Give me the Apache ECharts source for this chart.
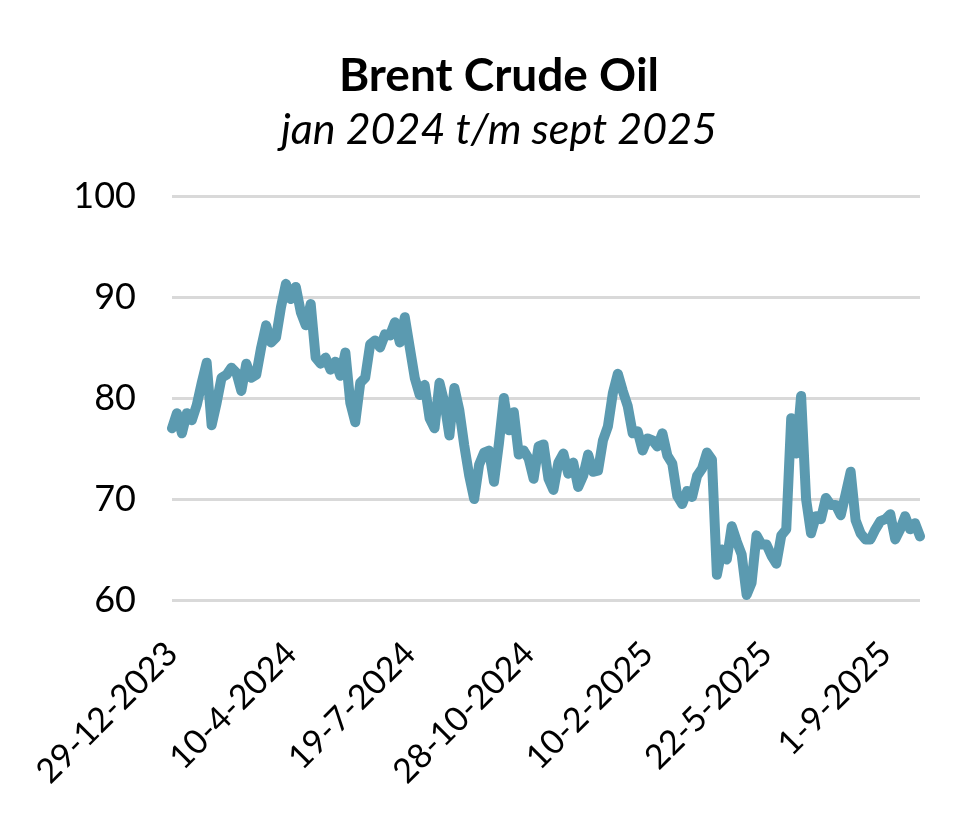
<!DOCTYPE html>
<html>
<head>
<meta charset="utf-8">
<script src="https://cdn.jsdelivr.net/npm/echarts@6/dist/echarts.min.js"></script>
<style>
html,body{margin:0;padding:0;background:#fff;}
#chart{width:966px;height:834px;}
</style>
</head>
<body>
<div id="chart"></div>
<script>
// Tick labels shown on the x axis (one every labelStep samples)
const tickLabels = ['29-12-2023', '10-4-2024', '19-7-2024', '28-10-2024', '10-2-2025', '22-5-2025', '1-9-2025'];
const labelStep = 24;
const prices = [
  77, 78.5, 76.5, 78.5, 77.8, 79.3, 81.5, 83.5, 77.3, 79.5,
  82, 82.3, 83, 82.5, 80.7, 83.4, 82, 82.3, 85, 87.2,
  85.5, 86, 89, 91.3, 89.8, 91, 88.5, 87.2, 89.3, 84,
  83.4, 84, 82.8, 83.6, 82.2, 84.5, 79.5, 77.6, 81.5, 82,
  85.3, 85.7, 85, 86.3, 86.2, 87.5, 85.5, 88, 85, 82,
  80.3, 81.3, 78, 77, 81.5, 79.5, 76.3, 81, 78.8, 75.3,
  72.3, 70, 73.4, 74.6, 74.8, 71.7, 75.5, 80, 76.8, 78.6,
  74.4, 74.8, 74, 72, 75.2, 75.4, 72, 70.9, 73.6, 74.5,
  72.5, 73.6, 71.2, 72.3, 74.4, 72.7, 72.8, 75.8, 77.2, 80.5,
  82.4, 80.7, 79.2, 76.5, 76.7, 74.8, 76, 75.8, 75.2, 76.5,
  74.3, 73.5, 70.3, 69.5, 70.8, 70.2, 72.3, 73, 74.6, 73.9,
  62.5, 65, 64, 67.3, 65.8, 64.5, 60.5, 61.7, 66.4, 65.5,
  65.5, 64.4, 63.6, 66.4, 67, 78, 74.5, 80.2, 70, 66.6,
  68.3, 68, 70.1, 69.4, 69.4, 68.4, 70.5, 72.7, 67.9, 66.6,
  66, 66, 67, 67.8, 68, 68.5, 66, 67, 68.3, 67,
  67.6, 66.3
];
const yTicks = { min: 60, max: 100, interval: 10 };

const categories = prices.map((_, i) => i % labelStep === 0 && tickLabels[i / labelStep] ? tickLabels[i / labelStep] : 'p' + i);

const FONT = 'Lato, "Open Sans", sans-serif';
const chart = echarts.init(document.getElementById('chart'), null, { renderer: 'canvas' });
chart.setOption({
  backgroundColor: '#ffffff',
  animation: false,
  title: [
    { text: 'Brent Crude Oil', left: 494, textAlign: 'center', top: 48,
      textStyle: { fontFamily: FONT, fontWeight: 'bold', fontSize: 46, color: '#000' } },
    { text: 'jan 2024 t/m sept 2025', left: 494, textAlign: 'center', top: 104,
      textStyle: { fontFamily: FONT, fontStyle: 'italic', fontWeight: 'normal', fontSize: 43, color: '#000' } }
  ],
  grid: { left: 172, right: 46, top: 196, bottom: 234, containLabel: false },
  xAxis: {
    type: 'category',
    data: categories,
    boundaryGap: false,
    axisLine: { show: false },
    axisTick: { show: false },
    splitLine: { show: false },
    axisLabel: {
      interval: labelStep - 1,
      rotate: 45,
      margin: 48,
      fontFamily: FONT, fontSize: 34, color: '#000',
      formatter: (v) => (tickLabels.indexOf(v) >= 0 ? v : '')
    }
  },
  yAxis: {
    type: 'value',
    min: yTicks.min, max: yTicks.max, interval: yTicks.interval,
    axisLine: { show: false },
    axisTick: { show: false },
    axisLabel: { margin: 36, fontFamily: FONT, fontSize: 36, color: '#000' },
    splitLine: { lineStyle: { color: '#d9d9d9', width: 3 } }
  },
  series: [{
    type: 'line',
    data: prices,
    symbol: 'none',
    smooth: false,
    lineStyle: { color: '#5b9ab0', width: 10, cap: 'round', join: 'round' }
  }]
});
</script>
</body>
</html>
